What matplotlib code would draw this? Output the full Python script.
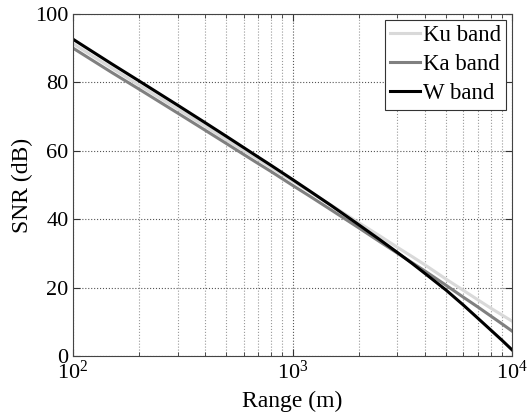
import numpy as np
import matplotlib
matplotlib.use("Agg")
import matplotlib.pyplot as plt
from matplotlib.ticker import LogLocator, NullFormatter

plt.rcParams["font.family"] = ["Liberation Serif", "DejaVu Serif"]
plt.rcParams["mathtext.fontset"] = "custom"
plt.rcParams["mathtext.rm"] = "Liberation Serif"
plt.rcParams["mathtext.it"] = "Liberation Serif:italic"

# Range (m) and SNR (dB) values
range_m = [100, 150, 200, 300, 400, 500, 600, 700, 800, 1000, 1200, 1500,
           2000, 2500, 3000, 3500, 4000, 5000, 6000, 7000, 8000, 9000, 10000]
snr_ku = [91.3, 84.2, 79.2, 72.2, 67.2, 63.2, 60.1, 57.4, 55.1, 51.2, 48.0, 44.1,
          39.0, 35.1, 31.8, 29.1, 26.7, 22.5, 19.2, 16.4, 14.0, 12.0, 10.2]
snr_ka = [90.0, 82.9, 78.0, 71.0, 66.0, 62.1, 58.9, 56.2, 53.9, 49.9, 46.7, 42.7,
          37.5, 33.4, 30.1, 27.3, 24.9, 20.7, 17.2, 14.3, 11.7, 9.4, 7.3]
snr_w = [92.6, 85.4, 80.4, 73.3, 68.2, 64.2, 60.9, 58.1, 55.7, 51.6, 48.2, 44.0,
         38.4, 34.0, 30.3, 27.1, 24.2, 19.3, 14.9, 11.0, 7.6, 4.6, 1.8]

fig = plt.figure(figsize=(5.28, 4.18), dpi=100)
ax = fig.add_axes([0.138, 0.148, 0.832, 0.819])

ax.plot(range_m, snr_ku, color="#d9d9d9", lw=2.2, label="Ku band")
ax.plot(range_m, snr_ka, color="#808080", lw=2.2, label="Ka band")
ax.plot(range_m, snr_w, color="black", lw=2.2, label="W band")

ax.set_xscale("log")
ax.set_xlim(100, 10000)
ax.set_ylim(0, 100)
ax.set_yticks([0, 20, 40, 60, 80, 100])
ax.xaxis.set_major_locator(LogLocator(base=10, numticks=10))
ax.xaxis.set_minor_locator(LogLocator(base=10, subs=np.arange(2, 10), numticks=20))
ax.xaxis.set_minor_formatter(NullFormatter())

ax.grid(True, which="major", linestyle=":", color="#555555", linewidth=0.8)
ax.grid(True, which="minor", axis="x", linestyle=":", color="#999999", linewidth=0.8)

ax.tick_params(which="both", direction="in", top=True, right=True, labelsize=16, colors="#333333")
ax.tick_params(which="major", length=5, pad=3)
ax.tick_params(which="minor", length=3)
for lab in ax.get_xticklabels() + ax.get_yticklabels():
    lab.set_color("black")
for s in ax.spines.values():
    s.set_color("#444444")

ax.set_xlabel("Range (m)", fontsize=17, labelpad=5)
ax.set_ylabel("SNR (dB)", fontsize=17, labelpad=2)

leg = ax.legend(loc="upper right", fontsize=16.5, fancybox=False, framealpha=1,
                edgecolor="#333333", handlelength=1.3, handletextpad=0.1,
                borderpad=0.25, labelspacing=0.35, borderaxespad=0.25)
leg.get_frame().set_linewidth(0.8)

fig.savefig("out.png", dpi=100)
